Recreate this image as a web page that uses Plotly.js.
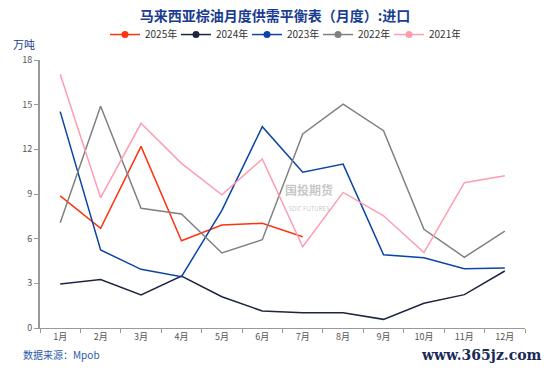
<!DOCTYPE html>
<html><head><meta charset="utf-8">
<script src="https://cdn.plot.ly/plotly-3.0.1.min.js"></script>
<style>html,body{margin:0;padding:0;background:#fff}#chart{width:550px;height:371px}</style>
</head><body><div id="chart"></div>
<script>
const months = ["1月","2月","3月","4月","5月","6月","7月","8月","9月","10月","11月","12月"];
const seriesNames = ["2025年","2024年","2023年","2022年","2021年"];
const y2025 = [8.87, 6.7, 12.2, 5.86, 6.92, 7.03, 6.13];
const y2024 = [2.95, 3.25, 2.22, 3.49, 2.1, 1.14, 1.03, 1.02, 0.58, 1.66, 2.24, 3.83];
const y2023 = [14.53, 5.24, 3.94, 3.45, 7.9, 13.52, 10.46, 11.01, 4.92, 4.72, 3.98, 4.03];
const y2022 = [7.07, 14.9, 8.04, 7.66, 5.04, 5.93, 13.03, 15.04, 13.25, 6.63, 4.75, 6.51];
const y2021 = [17.04, 8.75, 13.75, 11.06, 8.95, 11.35, 5.46, 9.11, 7.54, 5.06, 9.76, 10.23];
const seriesValues = [y2025, y2024, y2023, y2022, y2021];
const colors = ["#ff3311", "#1e2542", "#0b44a6", "#808080", "#ff9db0"];

const traces = [];
seriesValues.forEach((vals, i) => {
  traces.push({
    x: months.slice(0, vals.length), y: vals, type: "scatter", mode: "lines",
    line: {color: colors[i], width: 1.5}, showlegend: false, hoverinfo: "skip"
  });
});
seriesValues.forEach((vals, i) => {
  traces.push({
    x: [null], y: [null], type: "scatter", mode: "lines+markers", name: seriesNames[i],
    line: {color: colors[i], width: 1.5}, marker: {color: colors[i], size: 7}
  });
});

const layout = {
  width: 550, height: 371,
  margin: {l: 40, r: 25, t: 60, b: 43},
  paper_bgcolor: "#fff", plot_bgcolor: "#fff",
  font: {family: "Noto Sans CJK SC, sans-serif", color: "#444"},
  title: {text: "<b>马来西亚棕油月度供需平衡表（月度）:进口</b>", x: 0.5, xanchor: "center", y: 0.97, yanchor: "top",
    font: {size: 14, color: "#1a3d8f", family: "Noto Sans CJK SC"}},
  showlegend: true,
  legend: {orientation: "h", x: 0.5, xanchor: "center", y: 1.095, yanchor: "middle",
    font: {size: 10, color: "#333"}, itemwidth: 30, entrywidth: 26, tracegroupgap: 0, traceorder: "normal"},
  xaxis: {
    type: "category", categoryarray: months, range: [-0.5, 11.5],
    showline: true, linecolor: "#999", linewidth: 1,
    ticks: "outside", tickcolor: "#999", ticklen: 4, tickson: "boundaries",
    showgrid: false, zeroline: false, fixedrange: true,
    tickfont: {size: 9, color: "#555"}
  },
  yaxis: {
    range: [0, 18], tickvals: [0, 3, 6, 9, 12, 15, 18],
    showline: true, linecolor: "#999", linewidth: 2,
    ticks: "outside", tickcolor: "#999", ticklen: 4,
    showgrid: false, zeroline: false,
    tickfont: {size: 9, color: "#555"}
  },
  annotations: [
    {text: "万吨", xref: "paper", yref: "paper", x: -0.06, y: 1.06, xanchor: "left", yanchor: "middle",
      showarrow: false, font: {size: 11, color: "#1a3d8f"}},
    {text: "数据来源：Mpob", xref: "paper", yref: "paper", x: -0.04, y: -0.1, xanchor: "left", yanchor: "middle",
      showarrow: false, font: {size: 10, color: "#2a5aa8"}},
    {text: "<b>www.365jz.com</b>", xref: "paper", yref: "paper", x: 1.04, y: -0.1, xanchor: "right", yanchor: "middle",
      showarrow: false, font: {size: 14, color: "#1a2a5a", family: "DejaVu Serif"}},
    {text: "<b>国投期货</b><br><span style='font-size:6px'>SDIC FUTURES</span>", xref: "paper", yref: "paper", x: 0.50, y: 0.49, xanchor: "left", yanchor: "middle",
      showarrow: false, font: {size: 12, color: "rgba(150,150,150,0.55)"}}
  ]
};
Plotly.newPlot("chart", traces, layout, {displayModeBar: false, staticPlot: true});
</script></body></html>
